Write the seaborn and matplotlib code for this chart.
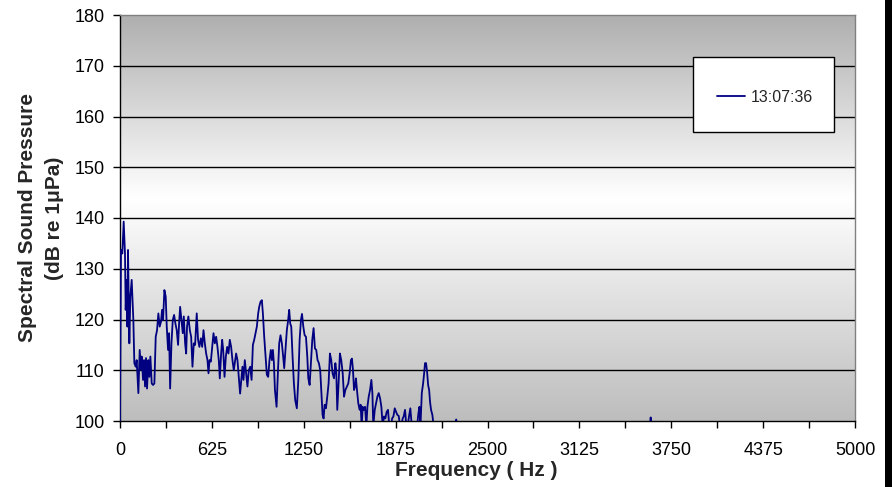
import numpy as np
import pandas as pd
import seaborn as sns
import matplotlib.pyplot as plt
from matplotlib.patches import Rectangle
from matplotlib.colors import LinearSegmentedColormap

# Spectrum (Hz, dB re 1uPa)
freq_hz = [
    0, 6.8, 15.9, 25, 34, 38.6, 45.4, 50, 54.5, 63.6,
    70.4, 79.5, 90.8, 97.6, 106.7, 113.5, 124.9, 134, 143, 147.6,
    156.7, 163.5, 170.3, 177.1, 183.9, 193, 199.8, 206.6, 215.7, 224.8,
    233.9, 243, 252, 261, 270, 279, 286, 293, 302, 311,
    318, 327, 334, 341, 350, 359, 368, 377, 386, 395,
    402, 409, 418, 427, 434, 443, 450, 456, 465, 475,
    484, 493, 502, 511,
    522, 531, 540, 550, 559, 568, 577, 586, 595, 602,
    609, 618, 627, 636, 645, 654, 663, 672, 679, 688,
    695, 702, 711, 720, 729, 738, 747, 756, 765, 774,
    781, 790, 799, 808, 817, 827, 833, 840, 849, 858,
    867, 876, 886, 895, 904, 913, 922, 931, 940, 947,
    956, 965, 972, 981, 990, 999, 1008, 1017,
    1026, 1033, 1040, 1047, 1054, 1065, 1074, 1083, 1092, 1101,
    1110, 1117, 1126, 1135, 1144, 1151, 1158, 1165, 1174, 1183,
    1192, 1203, 1213, 1222, 1231, 1238, 1247, 1256, 1265, 1274,
    1281, 1290, 1299, 1308, 1317, 1326, 1335, 1344, 1353, 1362,
    1369, 1378, 1385, 1392, 1401, 1410, 1419, 1428, 1437, 1446,
    1456, 1465, 1471, 1478, 1487, 1496, 1505, 1515, 1524, 1533,
    1544, 1553, 1562, 1571, 1578, 1585, 1592, 1599, 1605, 1612,
    1621, 1630, 1637, 1644, 1651, 1658, 1667, 1676, 1683, 1692,
    1701, 1710, 1717, 1723, 1733, 1742, 1751, 1760, 1769, 1778,
    1787, 1796, 1805, 1814, 1823, 1832, 1844, 1851, 1860, 1869,
    1878, 1887, 1896, 1905, 1914, 1923, 1930, 1939, 1948, 1957,
    1966, 1975, 1985, 2003, 2021, 2030, 2037, 2044, 2053, 2062,
    2069, 2075, 2082, 2089, 2096, 2103, 2109, 2116, 2125, 2134,
    2160, 2200, 2250, 2287, 2320, 2400, 2500, 2600, 2700, 2800,
    2900, 3000, 3100, 3200, 3300, 3400, 3500, 3590, 3605, 3610,
    3615, 3700, 3800, 3900, 4000, 4200, 4400, 4600, 4800, 5000,
]
level_db = [
    100, 133.7, 133.0, 139.3, 133.0, 121.9, 127.8, 118.6, 133.7, 115.3,
    124.5, 127.8, 119.9, 111.4, 110.7, 112.0, 105.5, 114.0, 110.1, 112.7,
    108.1, 112.0, 106.8, 112.4, 106.4, 112.0, 108.7, 112.7, 107.4, 107.1,
    107.4, 116.6, 117.9, 121.2, 118.6, 119.6, 121.9, 119.9, 125.8, 124.5,
    118.6, 114.0, 117.3, 106.4, 115.3, 119.9, 120.9, 119.2, 117.9, 115.0,
    119.2, 122.5, 119.9, 117.3, 120.6, 115.3, 113.3, 118.6, 120.6, 117.9,
    116.6, 110.7, 115.3, 115.0,
    121.2, 116.0, 114.6, 116.3, 114.6, 117.9, 115.3, 113.3, 112.0, 109.4,
    112.0, 111.7, 114.6, 117.3, 115.3, 116.6, 114.6, 112.0, 108.4, 113.3,
    116.0, 114.0, 108.7, 112.7, 114.6, 113.3, 116.0, 114.6, 112.0, 110.0,
    111.4, 113.3, 112.0, 108.7, 105.4, 108.7, 110.7, 108.1, 112.0, 109.4,
    106.8, 110.0, 110.7, 108.1, 115.0, 116.0, 117.3, 118.6, 121.2, 122.5,
    123.5, 123.8, 121.2, 116.6, 112.7, 109.1, 108.7, 112.0,
    114.0, 112.0, 114.0, 111.4, 106.1, 102.8, 109.4, 115.3, 116.9, 115.3,
    112.7, 110.4, 114.0, 117.9, 119.9, 121.9, 119.2, 118.6, 112.7, 107.4,
    104.1, 102.5, 108.1, 116.0, 119.9, 121.1, 118.6, 116.9, 116.6, 112.7,
    108.4, 107.1, 111.4, 116.0, 118.3, 114.3, 114.0, 112.0, 111.4, 110.0,
    106.1, 101.2, 100.5, 103.2, 102.5, 104.8, 107.4, 113.3, 112.0, 109.4,
    108.4, 111.4, 110.0, 102.2, 107.4, 113.3, 112.0, 109.4, 104.8, 106.1,
    106.8, 107.4, 109.4, 112.0, 112.3, 110.0, 106.1, 106.8, 108.4, 106.1,
    103.5, 102.2, 103.2, 99.0, 102.8, 102.2, 102.8, 99.0, 102.8, 104.8,
    106.1, 108.1, 105.5, 99.0, 102.2, 103.5, 104.8, 105.5, 104.5, 102.8,
    99.0, 100.9, 100.5, 101.8, 102.2, 99.0, 99.0, 100.5, 100.9, 102.5,
    101.8, 101.2, 101.0, 99.0, 99.0, 100.5, 100.9, 102.2, 99.0, 99.0,
    100.9, 102.5, 99.0, 99.0, 99.0, 101.5, 102.8, 99.0, 105.5, 107.4,
    109.4, 111.4, 111.4, 109.7, 107.1, 106.1, 103.8, 102.2, 101.2, 99.0,
    97.0, 96.0, 96.5, 100.3, 96.0, 95.0, 94.0, 95.0, 94.0, 95.0,
    94.0, 94.0, 95.0, 94.0, 94.0, 95.0, 94.0, 96.0, 96.0, 100.7,
    96.0, 94.0, 94.0, 93.0, 94.0, 93.0, 93.0, 93.0, 93.0, 93.0,
]
series_label = "13:07:36"
x_tick_labels = ["0", "625", "1250", "1875", "2500", "3125", "3750", "4375", "5000"]
y_ticks = [100, 110, 120, 130, 140, 150, 160, 170, 180]

df = pd.DataFrame({"Frequency": freq_hz, "Level": level_db})

sns.set_style("white")
plt.rcParams["font.family"] = ["Liberation Sans", "DejaVu Sans"]

fig = plt.figure(figsize=(8.92, 4.87), dpi=100)
ax = fig.add_axes([120 / 892, 1 - 421 / 487, 735 / 892, 406 / 487])

# grey-white-grey gradient like the Excel plot area
cmap = LinearSegmentedColormap.from_list(
    "plotarea", [(0, "#bdbdbd"), (0.55, "#ffffff"), (1, "#afafaf")])
grad = np.linspace(0, 1, 256).reshape(-1, 1)
ax.imshow(grad, extent=[0, 5000, 100, 180], origin="lower", aspect="auto",
          cmap=cmap, zorder=0)

for yv in y_ticks[1:-1]:
    ax.axhline(yv, color="black", lw=1, zorder=1)

sns.lineplot(data=df, x="Frequency", y="Level", color="#000080", lw=1.3,
             ax=ax, zorder=3, label=series_label)

ax.set_xlim(0, 5000)
ax.set_ylim(100, 180)
ax.set_xticks(np.arange(0, 5001, 625))
ax.set_xticklabels(x_tick_labels)
ax.set_xticks(np.arange(312.5, 5000, 625), minor=True)
ax.set_yticks(y_ticks)
ax.tick_params(axis="both", which="both", direction="out", length=5,
               width=1, color="black", labelsize=13, labelcolor="black")
ax.tick_params(axis="x", which="both", bottom=True, pad=10)
ax.tick_params(axis="y", left=True, pad=6)
ax.set_xlabel("")
ax.set_ylabel("")

for side in ["left", "bottom"]:
    ax.spines[side].set_color("black")
    ax.spines[side].set_linewidth(1)
for side in ["top", "right"]:
    ax.spines[side].set_color("#808080")
    ax.spines[side].set_linewidth(1)

# legend box
ax.add_patch(Rectangle((0.7796, 0.7118), 0.1918, 0.1847, transform=ax.transAxes,
                       facecolor="white", edgecolor="black", lw=1, zorder=4))
leg = ax.legend(loc="center left", bbox_to_anchor=(0.8122, 0.798), frameon=False,
                fontsize=11.5, handlelength=1.75, handletextpad=0.35,
                borderpad=0, borderaxespad=0)
leg.set_zorder(5)

fig.text(476 / 892, 1 - 471 / 487, "Frequency ( Hz )", ha="center", va="center",
         fontsize=15, fontweight="bold")
fig.text(41 / 892, 1 - 218 / 487, "Spectral Sound Pressure\n(dB re 1μPa)",
         ha="center", va="center", rotation=90, fontsize=15, fontweight="bold",
         linespacing=1.55)

fig.patches.append(Rectangle((885 / 892, 0), 7 / 892, 1, transform=fig.transFigure,
                             facecolor="black", edgecolor="none"))

fig.savefig("out.png", dpi=100)
